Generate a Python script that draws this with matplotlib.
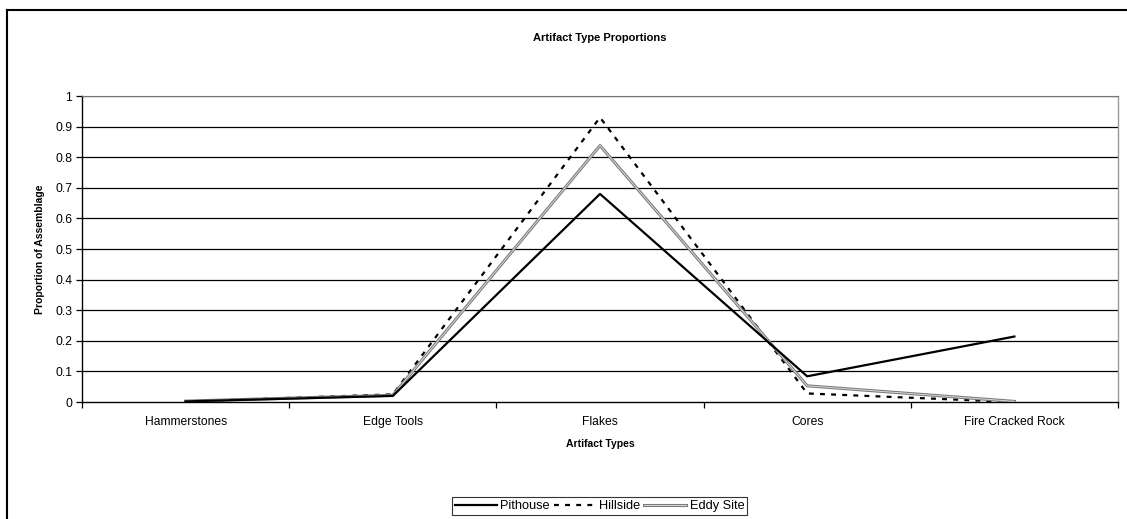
import matplotlib
matplotlib.use("Agg")
import matplotlib.pyplot as plt
import matplotlib.patheffects as pe
from matplotlib.lines import Line2D

categories = ["Hammerstones", "Edge Tools", "Flakes", "Cores", "Fire Cracked Rock"]
pithouse = [0.002, 0.020, 0.680, 0.084, 0.214]
hillside = [0.002, 0.025, 0.930, 0.028, 0.000]
eddy_site = [0.003, 0.022, 0.838, 0.053, 0.002]
y_ticks = [0, 0.1, 0.2, 0.3, 0.4, 0.5, 0.6, 0.7, 0.8, 0.9, 1]
y_tick_labels = ["0", "0.1", "0.2", "0.3", "0.4", "0.5", "0.6", "0.7", "0.8", "0.9", "1"]

plt.rcParams['font.family'] = ['Liberation Sans', 'DejaVu Sans']

fig = plt.figure(figsize=(11.27, 5.19), dpi=100)
ax = fig.add_axes([0.0728, 0.2254, 0.9192, 0.5896])

x = list(range(len(categories)))
ax.set_xlim(-0.5, len(categories) - 0.5)
ax.set_ylim(0, 1)

for yv in y_ticks[1:]:
    ax.axhline(yv, color='black', lw=0.9, zorder=1)

ax.plot(x, pithouse, color='black', lw=1.6, label='Pithouse', zorder=4)
ax.plot(x, hillside, color='black', lw=1.6, linestyle=(0, (2.2, 2.8)), label='Hillside', zorder=3)
ax.plot(x, eddy_site, color='#8a8a8a', lw=1.0, label='Eddy Site', zorder=3,
        path_effects=[pe.Stroke(linewidth=2.2, foreground='#7a7a7a'),
                      pe.Stroke(linewidth=0.7, foreground='#d8d8d8')])

ax.set_yticks(y_ticks)
ax.set_yticklabels(y_tick_labels, fontsize=8.7)
ax.set_xticks(x)
ax.set_xticklabels(categories, fontsize=8.7)
ax.set_xticks([i - 0.5 for i in range(len(categories) + 1)], minor=True)
ax.tick_params(axis='x', which='major', length=0, pad=10)
ax.tick_params(axis='x', which='minor', length=4, direction='out', width=0.9)
ax.tick_params(axis='y', length=4, direction='out', width=0.9, pad=3)

for s in ['left', 'bottom']:
    ax.spines[s].set_color('black')
    ax.spines[s].set_linewidth(1.0)
ax.spines['right'].set_color('#999999')
ax.spines['top'].set_color('#777777')
ax.spines['right'].set_linewidth(1.0)

ax.set_xlabel('Artifact Types', fontsize=7.5, fontweight='bold', labelpad=8)
ax.set_ylabel('Proportion of Assemblage', fontsize=7.5, fontweight='bold', labelpad=7)
fig.text(0.532, 0.927, 'Artifact Type Proportions', fontsize=8, fontweight='bold',
         ha='center', va='center')

leg = fig.legend(loc='center', bbox_to_anchor=(0.532, 0.025), ncol=3, fontsize=9.2,
                 frameon=True, fancybox=False, edgecolor='black', handlelength=3.3,
                 handletextpad=0.25, columnspacing=0.3, borderpad=0.25, borderaxespad=0)
leg.get_frame().set_linewidth(0.8)

# outer chart border (top and left edges visible)
fig.add_artist(Line2D([6.5 / 1127, 1.0], [1 - 9.5 / 519, 1 - 9.5 / 519], color='black',
                      lw=1.5, transform=fig.transFigure))
fig.add_artist(Line2D([6.5 / 1127, 6.5 / 1127], [0, 1 - 9.5 / 519], color='black',
                      lw=1.5, transform=fig.transFigure))

fig.savefig('out.png', dpi=100)
